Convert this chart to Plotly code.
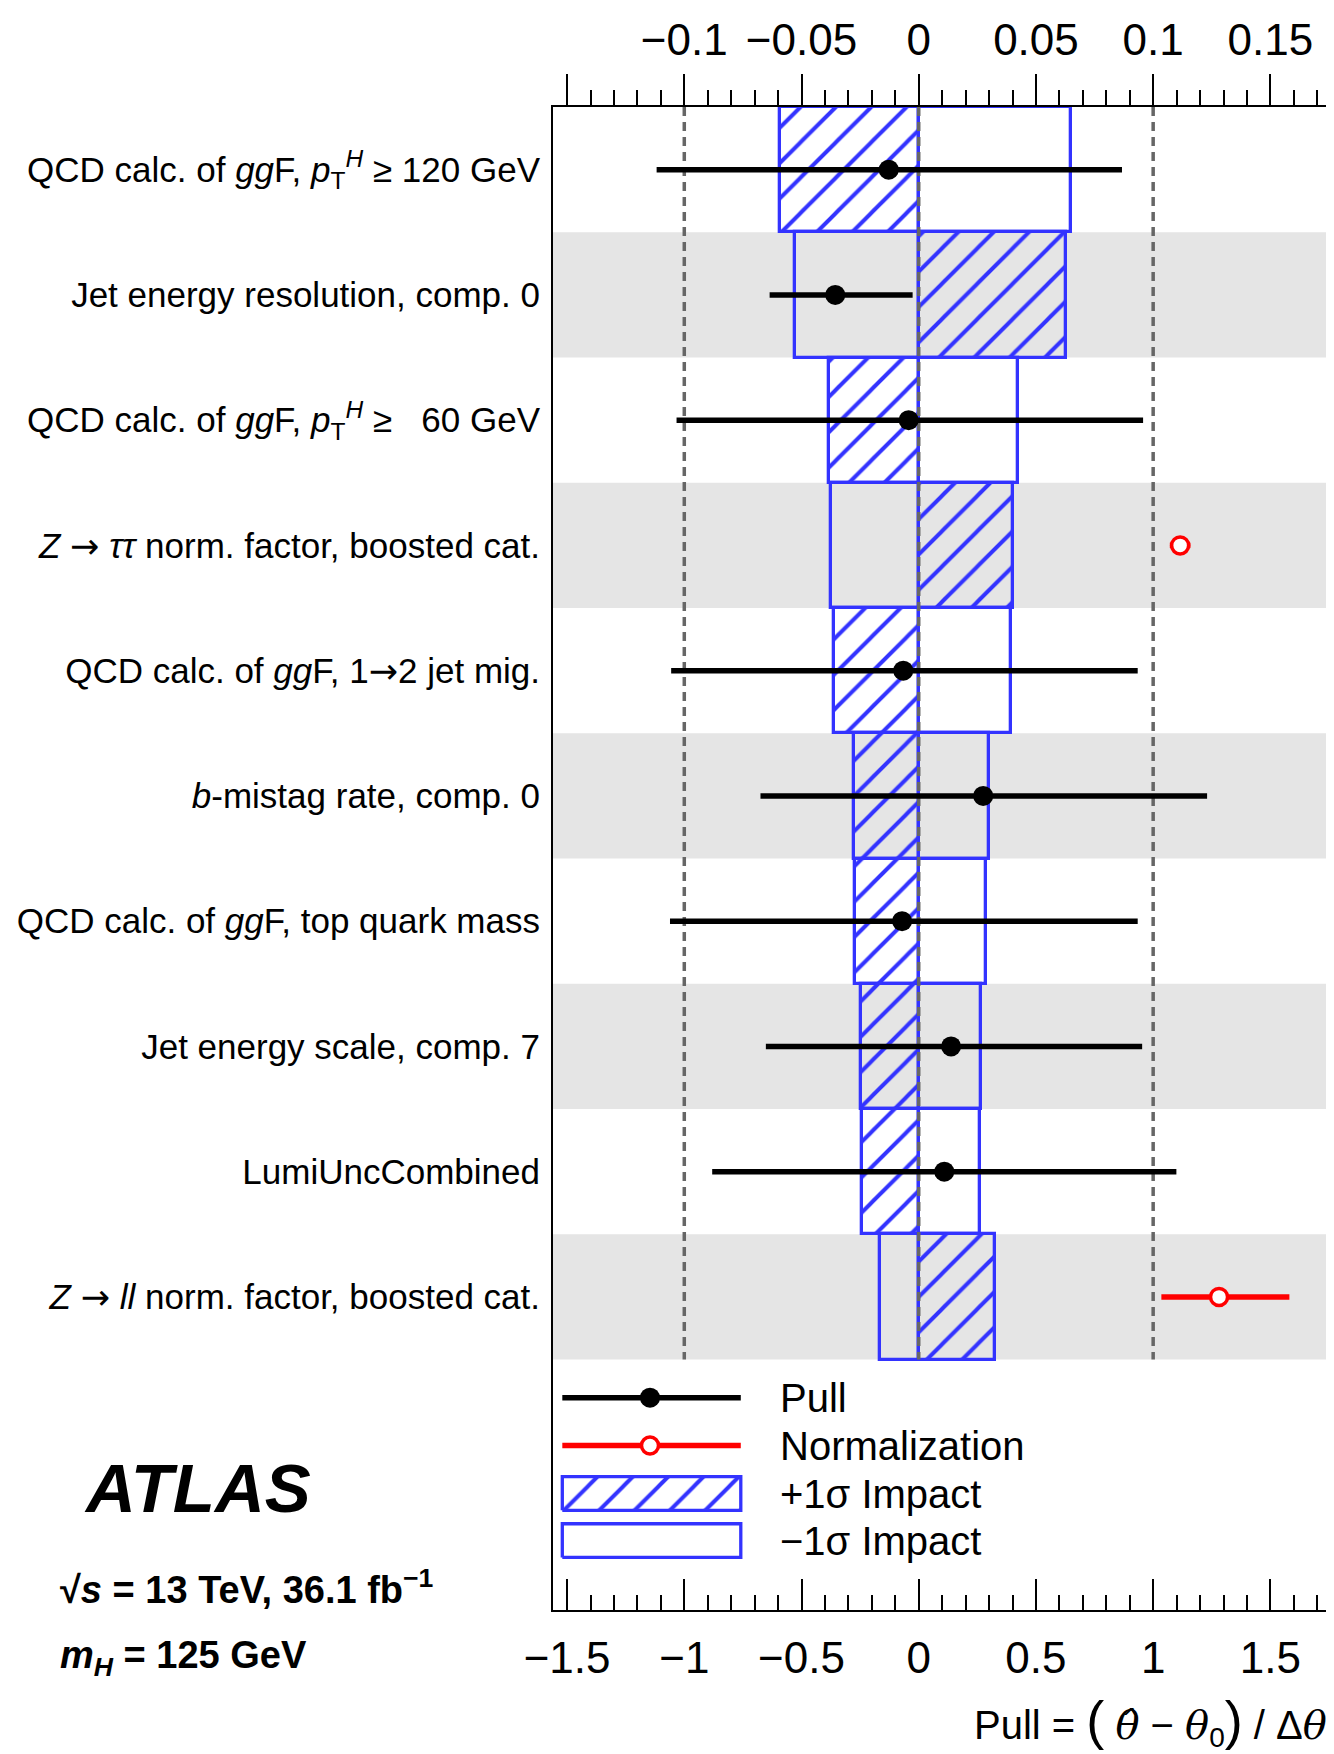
import plotly.graph_objects as go

# ---------------- data ----------------
ARROW = "<span style='font-family:DejaVu Sans'>\u2192</span>"
labels = [
    "QCD calc. of <i>gg</i>F, <i>p</i><sub>T</sub><sup><i>H</i></sup> ≥ 120 GeV",
    "Jet energy resolution, comp. 0",
    "QCD calc. of <i>gg</i>F, <i>p</i><sub>T</sub><sup><i>H</i></sup> ≥ \u00a0\u00a060 GeV",
    "<i>Z</i> " + ARROW + " <i>ττ</i> norm. factor, boosted cat.",
    "QCD calc. of <i>gg</i>F, 1" + ARROW + "2 jet mig.",
    "<i>b</i>-mistag rate, comp. 0",
    "QCD calc. of <i>gg</i>F, top quark mass",
    "Jet energy scale, comp. 7",
    "LumiUncCombined",
    "<i>Z</i> " + ARROW + " <i>ll</i> norm. factor, boosted cat.",
]
rows = list(range(len(labels)))

# impact on POI (top axis)
impact_plus = [-0.059, 0.063, -0.0384, 0.0403, -0.036, -0.0275, -0.027, -0.0247, -0.0242, 0.0327]
impact_minus = [0.065, -0.0527, 0.0422, -0.0375, 0.0394, 0.0299, 0.0285, 0.0266, 0.0261, -0.0166]

# pulls (bottom axis) for nuisance parameters
pull_rows = [0, 1, 2, 4, 5, 6, 7, 8]
pull_val = [-0.128, -0.356, -0.043, -0.066, 0.275, -0.071, 0.138, 0.109]
pull_err_lo = [0.99, 0.28, 0.99, 0.99, 0.95, 0.99, 0.79, 0.99]
pull_err_hi = [0.995, 0.33, 1.00, 1.00, 0.955, 1.005, 0.815, 0.99]

# normalisation factors
norm_rows = [3, 9]
norm_val = [1.115, 1.281]
norm_err_lo = [0.044, 0.246]
norm_err_hi = [0.044, 0.300]

ref_lines = [-1, 0, 1]

top_ticks = [-0.15, -0.1, -0.05, 0, 0.05, 0.1, 0.15]
top_ticktext = [" ", "\u22120.1", "\u22120.05", "0", "0.05", "0.1", "0.15"]
bot_ticks = [-1.5, -1, -0.5, 0, 0.5, 1, 1.5]
bot_ticktext = ["\u22121.5", "\u22121", "\u22120.5", "0", "0.5", "1", "1.5"]

pull_range = [-1.56, 1.75]
impact_range = [-0.156, 0.175]

BLUE = "#3333ff"
GREY_BAND = "#e5e5e5"
FONT = "Liberation Sans"

fig = go.Figure()

hatch = dict(shape="/", size=25, solidity=0.16, fgcolor=BLUE, fgopacity=1,
             bgcolor="rgba(0,0,0,0)", fillmode="overlay")

# ---------------- impact boxes (top axis, main subplot) ----------------
fig.add_trace(go.Bar(
    y=rows, x=impact_minus, base=0, orientation="h", width=1,
    marker=dict(color="rgba(0,0,0,0)", line=dict(color=BLUE, width=3.3)),
    showlegend=False, hoverinfo="skip",
))
fig.add_trace(go.Bar(
    y=rows, x=impact_plus, base=0, orientation="h", width=1,
    marker=dict(color="rgba(0,0,0,0)", line=dict(color=BLUE, width=3.3), pattern=hatch),
    showlegend=False, hoverinfo="skip",
))

# ---------------- reference lines & pulls (bottom axis overlay) ----------------
for v in ref_lines:
    fig.add_trace(go.Scatter(
        x=[v, v], y=[-0.5, 9.5], mode="lines", xaxis="x2", yaxis="y",
        line=dict(color="#666666", width=3.5, dash="9px,6px"),
        showlegend=False, hoverinfo="skip",
    ))

fig.add_trace(go.Scatter(
    x=pull_val, y=pull_rows, mode="markers", xaxis="x2", yaxis="y",
    marker=dict(color="black", size=20),
    error_x=dict(type="data", symmetric=False, array=pull_err_hi, arrayminus=pull_err_lo,
                 color="black", thickness=5.5, width=0),
    showlegend=False,
))
fig.add_trace(go.Scatter(
    x=norm_val, y=norm_rows, mode="markers", xaxis="x2", yaxis="y",
    marker=dict(color="white", size=17, line=dict(color="red", width=3.5)),
    error_x=dict(type="data", symmetric=False, array=norm_err_hi, arrayminus=norm_err_lo,
                 color="red", thickness=5.5, width=0),
    showlegend=False,
))

# ---------------- hand-drawn legend (layout-fraction axes) ----------------
lx0, lx1, lxm = 0.012, 0.242, 0.125
ly = [0.1413, 0.1094, 0.0775, 0.0462]
bh = 0.0112
fig.add_trace(go.Scatter(x=[lx0, lx1], y=[ly[0], ly[0]], mode="lines", xaxis="x3", yaxis="y3",
                         line=dict(color="black", width=5.5), showlegend=False, hoverinfo="skip"))
fig.add_trace(go.Scatter(x=[lxm], y=[ly[0]], mode="markers", xaxis="x3", yaxis="y3",
                         marker=dict(color="black", size=20), showlegend=False, hoverinfo="skip"))
fig.add_trace(go.Scatter(x=[lx0, lx1], y=[ly[1], ly[1]], mode="lines", xaxis="x3", yaxis="y3",
                         line=dict(color="red", width=5.5), showlegend=False, hoverinfo="skip"))
fig.add_trace(go.Scatter(x=[lxm], y=[ly[1]], mode="markers", xaxis="x3", yaxis="y3",
                         marker=dict(color="white", size=17, line=dict(color="red", width=3.5)),
                         showlegend=False, hoverinfo="skip"))
fig.add_trace(go.Scatter(
    x=[lx0, lx1, lx1, lx0, lx0], y=[ly[2] - bh, ly[2] - bh, ly[2] + bh, ly[2] + bh, ly[2] - bh],
    mode="lines", fill="toself", fillcolor="rgba(0,0,0,0)", xaxis="x3", yaxis="y3",
    fillpattern=hatch, line=dict(color=BLUE, width=3.3), showlegend=False, hoverinfo="skip"))
fig.add_trace(go.Scatter(
    x=[lx0, lx1, lx1, lx0, lx0], y=[ly[3] - bh, ly[3] - bh, ly[3] + bh, ly[3] + bh, ly[3] - bh],
    mode="lines", xaxis="x3", yaxis="y3",
    line=dict(color=BLUE, width=3.3), showlegend=False, hoverinfo="skip"))

legend_texts = ["Pull", "Normalization", "+1σ Impact", "\u22121σ Impact"]
annotations = []
for t, yy in zip(legend_texts, ly):
    annotations.append(dict(x=0.29, y=yy, xref="x3", yref="y3", text=t, showarrow=False,
                            xanchor="left", yanchor="middle",
                            font=dict(family=FONT, size=40, color="black")))

SERIF = "<span style='font-family:DejaVu Serif'><i>{}</i></span>"
PAREN = "<span style='font-size:54px'>{}</span>"
xtitle = ("Pull = " + PAREN.format("(") + " " + SERIF.format("θ\u0302") + " \u2212 "
          + SERIF.format("θ") + "<sub>0</sub>" + PAREN.format(")") + " / Δ" + SERIF.format("θ"))

# ATLAS labels
annotations += [
    dict(x=-0.607, y=0.0808, xref="paper", yref="paper", showarrow=False, xanchor="left",
         yanchor="middle", text="<b><i>ATLAS</i></b>", font=dict(family=FONT, size=69, color="black")),
    dict(x=-0.638, y=0.0150, xref="paper", yref="paper", showarrow=False, xanchor="left",
         yanchor="middle", text="<b>√<i>s</i> = 13 TeV, 36.1 fb<sup>\u22121</sup></b>",
         font=dict(family=FONT, size=38, color="black")),
    dict(x=-0.638, y=-0.032, xref="paper", yref="paper", showarrow=False, xanchor="left",
         yanchor="middle", text="<b><i>m</i><sub><i>H</i></sub> = 125 GeV</b>",
         font=dict(family=FONT, size=38, color="black")),
    dict(x=1.0, y=-0.074, xref="paper", yref="paper", showarrow=False, xanchor="right",
         yanchor="middle", text=xtitle, font=dict(family=FONT, size=40, color="black")),
]

# grey bands
shapes = []
for i in rows:
    if i % 2 == 1:
        shapes.append(dict(type="rect", xref="paper", yref="y", x0=0, x1=1, y0=i - 0.5, y1=i + 0.5,
                           fillcolor=GREY_BAND, line=dict(width=0), layer="below"))

fig.update_layout(
    template="none",
    width=1334, height=1754,
    margin=dict(l=545, r=13, t=99, b=152, autoexpand=False),
    plot_bgcolor="white", paper_bgcolor="white",
    barmode="overlay", bargap=0,
    showlegend=False,
    font=dict(family=FONT, color="black"),
    shapes=shapes, annotations=annotations,
    xaxis=dict(
        side="top", range=impact_range, tickmode="array", tickvals=top_ticks, ticktext=top_ticktext,
        ticks="outside", ticklen=31, tickwidth=2, tickcolor="black", automargin=False,
        minor=dict(tickmode="linear", tick0=0, dtick=0.01, ticks="outside", ticklen=15,
                   tickwidth=2, tickcolor="black", showgrid=False),
        showline=True, linecolor="black", linewidth=2, showgrid=False, zeroline=False,
        tickfont=dict(family=FONT, size=44, color="black"), ticklabelstandoff=1,
    ),
    xaxis2=dict(
        overlaying="x", side="bottom", anchor="y", range=pull_range, tickmode="array",
        tickvals=bot_ticks, ticktext=bot_ticktext, automargin=False,
        ticks="inside", ticklen=31, tickwidth=2, tickcolor="black",
        minor=dict(tickmode="linear", tick0=0, dtick=0.1, ticks="inside", ticklen=15,
                   tickwidth=2, tickcolor="black", showgrid=False),
        showline=True, linecolor="black", linewidth=2, showgrid=False, zeroline=False,
        tickfont=dict(family=FONT, size=44, color="black"), ticklabelstandoff=8,
    ),
    yaxis=dict(
        range=[11.5, -0.5], tickmode="array", tickvals=rows, ticktext=labels, ticks="",
        showline=True, mirror=True, linecolor="black", linewidth=2, showgrid=False,
        automargin=False,
        zeroline=False, tickfont=dict(family=FONT, size=35, color="black"), ticklabelstandoff=4,
    ),
    xaxis3=dict(overlaying="x", anchor="y3", range=[0, 1], visible=False, automargin=False),
    yaxis3=dict(overlaying="y", anchor="x3", range=[0, 1], visible=False, automargin=False),
)

fig.write_html("out.html")
